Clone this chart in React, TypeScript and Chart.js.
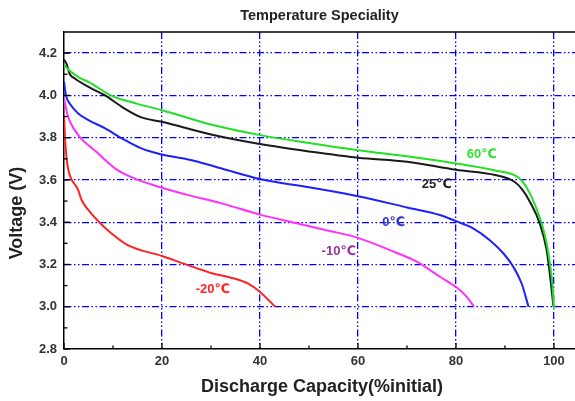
import { useEffect, useRef } from "react";
import { Chart, registerables } from "chart.js";

Chart.register(...registerables);

// ---- data ----
const xTickValues = [0, 20, 40, 60, 80, 100];
const yTickValues = [2.8, 3.0, 3.2, 3.4, 3.6, 3.8, 4.0, 4.2];

const green60X = [0, 1, 3, 5, 10, 15, 20, 30, 40, 50, 60, 70, 80, 88, 92, 93.5, 95, 96.5, 97.5, 98.5, 99.2, 99.7, 100];
const green60Y = [4.145, 4.12, 4.085, 4.064, 3.995, 3.96, 3.93, 3.862, 3.812, 3.775, 3.741, 3.712, 3.678, 3.645, 3.622, 3.595, 3.54, 3.46, 3.394, 3.3, 3.2, 3.1, 2.99];

const black25X = [0, 0.5, 1.2, 2.2, 5, 8.4, 11.8, 15.8, 20, 30, 40, 50, 60, 70, 80, 88, 92, 93.5, 95.1, 97.1, 98.5, 99.3, 99.9];
const black25Y = [4.17, 4.15, 4.1, 4.08, 4.04, 4.0, 3.946, 3.896, 3.875, 3.815, 3.77, 3.735, 3.705, 3.686, 3.648, 3.623, 3.59, 3.555, 3.496, 3.394, 3.268, 3.126, 3.0];

const blue0X = [0, 0.4, 1.2, 2.9, 5, 8.4, 11.8, 15.8, 20, 26.7, 32.2, 40, 50, 60, 70, 76.7, 80, 83.5, 86.9, 89.7, 91.7, 93.4, 94.8];
const blue0Y = [4.065, 4.0, 3.96, 3.914, 3.883, 3.844, 3.797, 3.749, 3.72, 3.69, 3.654, 3.604, 3.565, 3.523, 3.47, 3.434, 3.405, 3.371, 3.315, 3.252, 3.189, 3.11, 3.0];

const magentaM10X = [0, 0.7, 1.4, 3.2, 6.6, 10.7, 14.1, 20, 25.4, 32.2, 40, 47.1, 54, 60, 66.5, 72, 76.7, 80.1, 82.2, 83.7];
const magentaM10Y = [3.985, 3.91, 3.867, 3.804, 3.733, 3.65, 3.61, 3.563, 3.528, 3.489, 3.436, 3.397, 3.36, 3.326, 3.268, 3.213, 3.142, 3.092, 3.047, 3.0];

const redM20X = [0, 0.2, 0.5, 0.9, 2.9, 3.6, 5, 7.2, 9.7, 13.1, 20, 25, 30, 34.5, 37.5, 40, 43.1];
const redM20Y = [3.906, 3.8, 3.709, 3.646, 3.552, 3.505, 3.457, 3.4, 3.347, 3.29, 3.24, 3.199, 3.16, 3.135, 3.11, 3.07, 3.0];

const seriesNames = ["60℃", "25℃", "0℃", "-10℃", "-20℃"];
const labelX = [85.3, 76.1, 67.3, 56.1, 30.4];
const labelY = [3.722, 3.58, 3.4, 3.263, 3.084];

const FONT = '"Liberation Sans", Arial, "DejaVu Sans", sans-serif';

const toPoints = (xs: number[], ys: number[]) => xs.map((x, i) => ({ x, y: ys[i] }));

export default function App() {
  const ref = useRef<HTMLCanvasElement | null>(null);

  useEffect(() => {
    document.body.style.margin = "0";
    if (!ref.current) return;

    const lineColors = ["#22e022", "#1a1a1a", "#2020ff", "#ff30ff", "#ff2222"];
    const labelColors = ["#33dd33", "#222222", "#3333cc", "#993399", "#ff2222"];

    const overlay = {
      id: "overlay",
      afterDraw(chart: any) {
        const { ctx, chartArea, scales } = chart;
        const xs = scales.x;
        const ys = scales.y;
        ctx.save();
        // top frame line
        ctx.strokeStyle = "#000";
        ctx.lineWidth = 1.5;
        ctx.beginPath();
        ctx.moveTo(chartArea.left, chartArea.top);
        ctx.lineTo(chartArea.right, chartArea.top);
        ctx.stroke();
        // inward ticks
        ctx.lineWidth = 1.3;
        for (let i = 0; i <= 14; i++) {
          const v = 2.8 + i * 0.1;
          const py = ys.getPixelForValue(v);
          const len = i % 2 === 0 ? 6 : 3.5;
          ctx.beginPath();
          ctx.moveTo(chartArea.left, py);
          ctx.lineTo(chartArea.left + len, py);
          ctx.stroke();
        }
        for (let i = 0; i <= 10; i++) {
          const v = i * 10;
          const px = xs.getPixelForValue(v);
          const len = i % 2 === 0 ? 6 : 3.5;
          ctx.beginPath();
          ctx.moveTo(px, chartArea.bottom);
          ctx.lineTo(px, chartArea.bottom - len);
          ctx.stroke();
        }
        // title
        ctx.fillStyle = "#222";
        ctx.textAlign = "center";
        ctx.textBaseline = "middle";
        ctx.font = `bold 14.5px ${FONT}`;
        ctx.fillText("Temperature Speciality", (chartArea.left + chartArea.right) / 2, 16);
        // axis titles
        ctx.font = `bold 18px ${FONT}`;
        ctx.fillText("Discharge Capacity(%initial)", 322, 387);
        ctx.save();
        ctx.translate(17, 213);
        ctx.rotate(-Math.PI / 2);
        ctx.fillText("Voltage (V)", 0, 0);
        ctx.restore();
        // series labels
        ctx.font = `bold 13px ${FONT}`;
        for (let i = 0; i < seriesNames.length; i++) {
          ctx.fillStyle = labelColors[i];
          ctx.fillText(seriesNames[i], xs.getPixelForValue(labelX[i]), ys.getPixelForValue(labelY[i]));
        }
        ctx.restore();
      },
    };

    const gridDash = [7, 2.5, 1.5, 2.5, 1.5, 2.5];

    const chart = new Chart(ref.current, {
      type: "scatter",
      data: {
        datasets: [
          toPoints(green60X, green60Y),
          toPoints(black25X, black25Y),
          toPoints(blue0X, blue0Y),
          toPoints(magentaM10X, magentaM10Y),
          toPoints(redM20X, redM20Y),
        ].map((pts, i) => ({
          label: seriesNames[i],
          data: pts,
          showLine: true,
          borderColor: lineColors[i],
          backgroundColor: lineColors[i],
          borderWidth: 2,
          pointRadius: 0,
          cubicInterpolationMode: "monotone" as const,
          fill: false,
        })),
      },
      options: {
        animation: false,
        responsive: true,
        maintainAspectRatio: false,
        layout: { padding: { top: 32, left: 0, right: 0, bottom: 0 } },
        plugins: {
          legend: { display: false },
          title: { display: false },
          tooltip: { enabled: false },
        },
        scales: {
          x: {
            type: "linear",
            min: 0,
            max: 104.29,
            afterFit: (s: any) => {
              s.height = 52;
            },
            afterBuildTicks: (s: any) => {
              s.ticks = xTickValues.map((v) => ({ value: v }));
            },
            ticks: {
              stepSize: 20,
              includeBounds: false,
              color: "#333",
              font: { family: FONT, size: 13, weight: "bold" },
              padding: 5,
              maxRotation: 0,
            },
            grid: {
              color: (c: any) => (c.tick && c.tick.value === 0 ? "rgba(0,0,0,0)" : "#0000ff"),
              lineWidth: 1.3,
              drawTicks: false,
            },
            border: { display: true, color: "#000", width: 1.5, dash: gridDash },
          },
          y: {
            type: "linear",
            min: 2.8,
            max: 4.3,
            afterFit: (s: any) => {
              s.width = 64;
            },
            afterBuildTicks: (s: any) => {
              s.ticks = yTickValues.map((v) => ({ value: v }));
            },
            ticks: {
              stepSize: 0.2,
              includeBounds: false,
              color: "#333",
              font: { family: FONT, size: 13, weight: "bold" },
              padding: 7,
              callback: (v: any) => Number(v).toFixed(1),
            },
            grid: {
              color: (c: any) => (c.tick && Math.abs(c.tick.value - 2.8) < 1e-6 ? "rgba(0,0,0,0)" : "#0000ff"),
              lineWidth: 1.3,
              drawTicks: false,
            },
            border: { display: true, color: "#000", width: 1.5, dash: gridDash },
          },
        },
      },
      plugins: [overlay],
    } as any);

    return () => chart.destroy();
  }, []);

  return (
    <div style={{ width: 575, height: 401, position: "relative", background: "#fff" }}>
      <canvas ref={ref} />
    </div>
  );
}
